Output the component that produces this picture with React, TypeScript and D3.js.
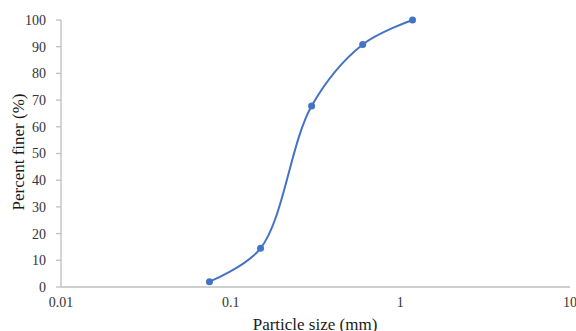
import React from "react";
import * as d3 from "d3";

const sizes = [0.075, 0.15, 0.3, 0.6, 1.18];
const finer = [2, 14.5, 67.8, 90.8, 100];
const xTicks = [0.01, 0.1, 1, 10];
const xTickLabels = ["0.01", "0.1", "1", "10"];
const yTicks = [0, 10, 20, 30, 40, 50, 60, 70, 80, 90, 100];

const W = 576;
const H = 331;
const left = 61;
const right = 570;
const top = 20;
const bottom = 287;
const font = "Liberation Serif, Tinos, Times New Roman, serif";

export default function App() {
  const x = d3.scaleLog().domain([0.01, 10]).range([left, right]);
  const y = d3.scaleLinear().domain([0, 100]).range([bottom, top]);
  const pts: [number, number][] = sizes.map((s, i) => [x(s), y(finer[i])]);
  const line = d3.line().curve(d3.curveCatmullRom.alpha(0.5));
  return (
    <svg
      width={W}
      height={H}
      style={{ position: "absolute", left: 0, top: 0, background: "#fff", fontFamily: font }}
    >
      <line x1={left} x2={right} y1={bottom} y2={bottom} stroke="#bfbfbf" strokeWidth={1.3} />
      <line x1={left} x2={left} y1={top} y2={bottom} stroke="#bfbfbf" strokeWidth={1.3} />
      {yTicks.map((t) => (
        <g key={t}>
          <line x1={left - 5} x2={left} y1={y(t)} y2={y(t)} stroke="#bfbfbf" strokeWidth={1.3} />
          <text
            x={46}
            y={y(t)}
            dy="0.35em"
            textAnchor="end"
            style={{ fontFamily: font, fontSize: 14 }}
            fill="#333"
          >
            {t}
          </text>
        </g>
      ))}
      {xTicks.map((t, i) => (
        <text
          key={t}
          x={x(t)}
          y={307}
          textAnchor="middle"
          style={{ fontFamily: font, fontSize: 14 }}
          fill="#333"
        >
          {xTickLabels[i]}
        </text>
      ))}
      <text
        transform={`translate(24,152) rotate(-90)`}
        textAnchor="middle"
        style={{ fontFamily: font, fontSize: 17 }}
        fill="#1a1a1a"
      >
        Percent finer (%)
      </text>
      <text
        x={315}
        y={330}
        textAnchor="middle"
        style={{ fontFamily: font, fontSize: 17 }}
        fill="#1a1a1a"
      >
        Particle size (mm)
      </text>
      <path d={line(pts) || ""} fill="none" stroke="#4472C4" strokeWidth={2} />
      {pts.map((p, i) => (
        <circle key={i} cx={p[0]} cy={p[1]} r={3.5} fill="#4472C4" />
      ))}
    </svg>
  );
}
